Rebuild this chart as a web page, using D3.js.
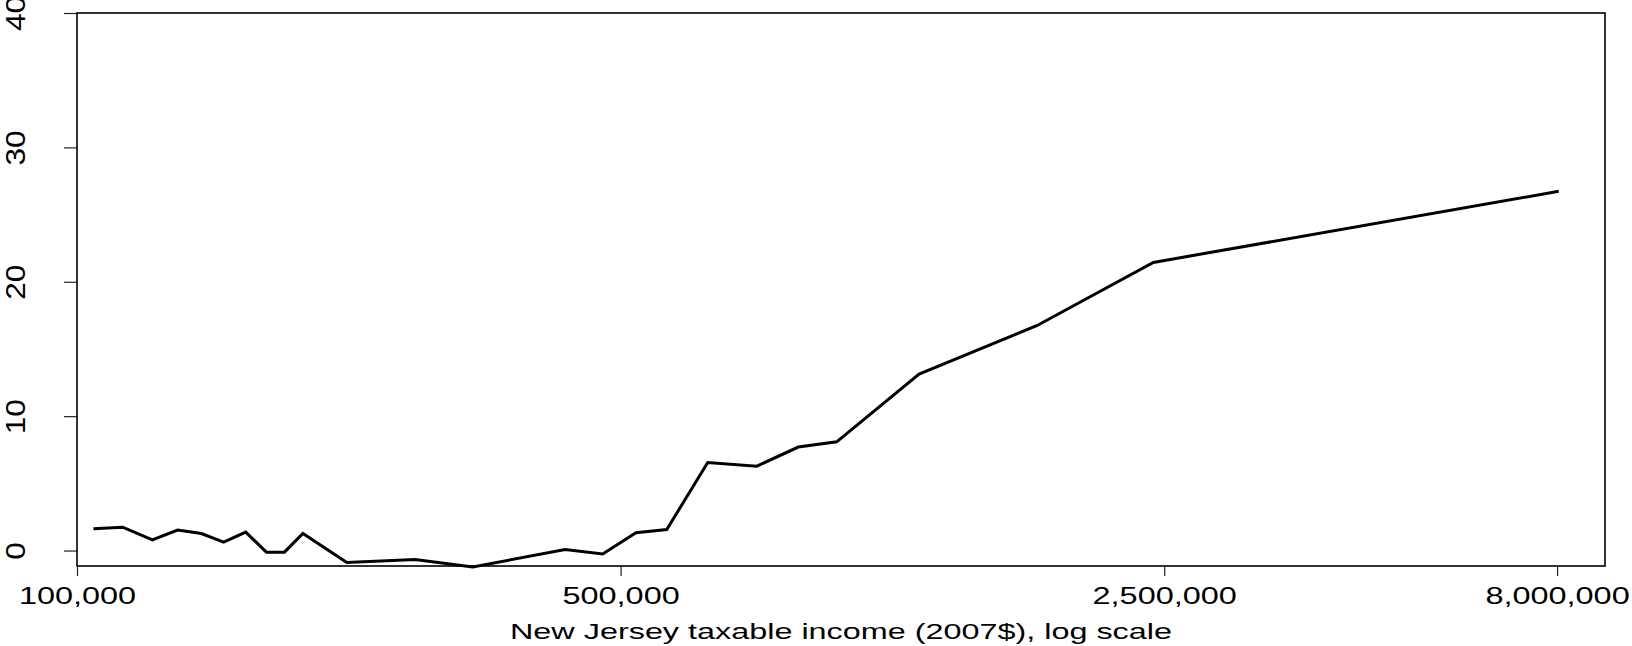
<!DOCTYPE html>
<html><head><meta charset="utf-8">
<script src="https://cdn.jsdelivr.net/npm/d3@7"></script>
<style>body{margin:0;background:#fff}svg{display:block}</style>
</head><body>
<svg id="c" width="1632" height="646"></svg>
<script>
// Data
const income = [105000, 114500, 125000, 134700, 144500, 154400, 164800, 175200, 184800, 195200,
                222300, 272000, 322700, 424200, 474200, 523300, 573200, 647100, 748200, 846200,
                948000, 1210000, 1714000, 2421000, 8040000];
const values = [1.62, 1.74, 0.80, 1.52, 1.27, 0.62, 1.37, -0.12, -0.12, 1.27,
                -0.89, -0.67, -1.22, 0.07, -0.25, 1.32, 1.56, 6.55, 6.28, 7.70,
                8.09, 13.13, 16.73, 21.44, 26.73];
const xTickValues = [100000, 500000, 2500000, 8000000];
const yTickValues = [0, 10, 20, 30, 40];
const xTitle = "New Jersey taxable income (2007$), log scale";

const svg = d3.select("#c");
const plot = {left: 77, right: 1605, top: 13, bottom: 566};

const x = d3.scaleLog().domain([100000, 9220000]).range([plot.left, plot.right]);
const y = d3.scaleLinear().domain([-1.15, 40]).range([plot.bottom, plot.top]);

const font = "'Liberation Sans', Arial, Helvetica, sans-serif";

// X axis
const gx = svg.append("g")
  .attr("transform", `translate(0,${plot.bottom})`)
  .call(d3.axisBottom(x).tickValues(xTickValues).tickFormat(d3.format(",")).tickSize(10).tickPadding(5));
gx.select(".domain").remove();
gx.selectAll(".tick line").attr("stroke", "#222").attr("stroke-width", 1.2);
gx.selectAll(".tick text")
  .attr("fill", "#000")
  .style("font-family", font)
  .style("font-size", "23px")
  .attr("y", 0).attr("dy", 0)
  .attr("transform", "translate(0,38) scale(1.41,1)");

// Y axis
const gy = svg.append("g")
  .attr("transform", `translate(${plot.left},0)`)
  .call(d3.axisLeft(y).tickValues(yTickValues).tickSize(13));
gy.select(".domain").remove();
gy.selectAll(".tick line").attr("stroke", "#222").attr("stroke-width", 1.2);
gy.selectAll(".tick text")
  .attr("fill", "#000")
  .style("font-family", font)
  .style("font-size", "27px")
  .attr("x", 0).attr("dy", 0).attr("y", 0)
  .attr("text-anchor", "middle")
  .attr("transform", "translate(-52,0) rotate(-90) scale(1.17,1)");

// Frame
svg.append("rect")
  .attr("x", plot.left).attr("y", plot.top)
  .attr("width", plot.right - plot.left).attr("height", plot.bottom - plot.top)
  .attr("fill", "none").attr("stroke", "#000").attr("stroke-width", 1.6);

// Data line
const pts = income.map((d, i) => [d, values[i]]);
svg.append("path")
  .datum(pts)
  .attr("fill", "none")
  .attr("stroke", "#000")
  .attr("stroke-width", 3)
  .attr("stroke-linejoin", "miter")
  .attr("d", d3.line().x(d => x(d[0])).y(d => y(d[1])));

// X title
svg.append("text")
  .attr("x", (plot.left + plot.right) / 2)
  .attr("y", 639)
  .attr("text-anchor", "middle")
  .attr("textLength", 662)
  .attr("lengthAdjust", "spacingAndGlyphs")
  .style("font-family", font)
  .style("font-size", "21.5px")
  .attr("fill", "#000")
  .text(xTitle);
</script>
</body></html>
